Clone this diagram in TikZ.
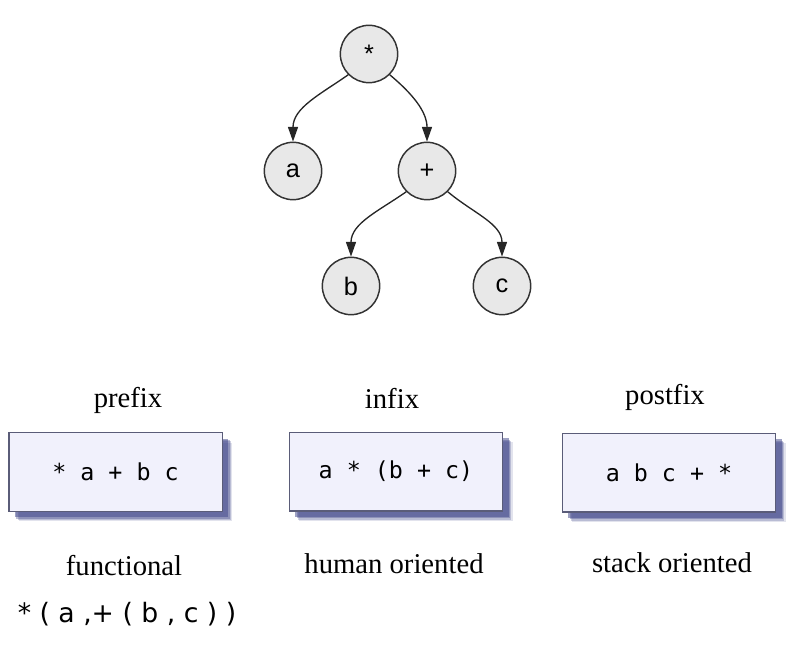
\documentclass[tikz,border=0pt]{standalone}
\usepackage{fontspec}
\setmainfont{Liberation Serif}
\newfontfamily\treefont{Liberation Sans}
\newfontfamily\monofont{DejaVu Sans Mono}
\newfontfamily\sansfont{DejaVu Sans}
\usetikzlibrary{arrows.meta,shadows}
\definecolor{boxfill}{HTML}{F1F1FC}
\definecolor{boxdraw}{HTML}{5A5C78}
\definecolor{shadowc}{HTML}{3E4488}
\definecolor{nodefill}{HTML}{E8E8E8}
\tikzset{
  treenode/.style={circle, draw=black!80, line width=1.1pt, fill=nodefill, minimum size=43pt, inner sep=0pt, font=\treefont\fontsize{19}{19}\selectfont},
  edge/.style={-{Triangle[length=11pt,width=7.5pt]}, line width=1pt, black!85},
  exprbox/.style={rectangle, draw=boxdraw, line width=1pt, fill=boxfill, minimum width=160pt, minimum height=59pt, inner sep=0pt,
    font=\monofont\fontsize{17.5}{17.5}\selectfont,
    drop shadow={shadow xshift=7.5pt, shadow yshift=-7.5pt, fill=shadowc, opacity=0.15},
    drop shadow={shadow xshift=6.5pt, shadow yshift=-6.5pt, fill=shadowc, opacity=0.25},
    drop shadow={shadow xshift=5.5pt, shadow yshift=-5.5pt, fill=shadowc, opacity=0.35},
    drop shadow={shadow xshift=4.5pt, shadow yshift=-4.5pt, fill=shadowc, opacity=0.5}},
  lbl/.style={inner sep=0pt, font=\fontsize{21.5}{21.5}\selectfont}
}
\begin{document}
\begin{tikzpicture}[x=0.75pt,y=-0.75pt]
\useasboundingbox (0,0) rectangle (800,645);
% tree
\node[treenode] (star) at (369,54) {*};
\node[treenode] (a) at (293,171) {a};
\node[treenode] (plus) at (427,171) {+};
\node[treenode] (b) at (351,286) {b};
\node[treenode] (c) at (502,286) {c};
\draw[edge] (star.225) to[out=215,in=90] (a.north);
\draw[edge] (star.-45) to[out=-40,in=90] (plus.north);
\draw[edge] (plus.225) to[out=215,in=90] (b.north);
\draw[edge] (plus.-45) to[out=-40,in=90] (c.north);
% labels
\node[lbl] (lpre) at (128,400) {prefix};
\node[lbl] (lin) at (392,398) {infix};
\node[lbl] (lpost) at (665,397) {postfix};
% boxes
\node[exprbox] (bpre) at (115.5,472) {* a + b c};
\node[exprbox] (bin) at (396,471.5) {a * (b + c)};
\node[exprbox] (bpost) at (669,472.5) {a b c + *};
% bottom labels
\node[lbl] (fun) at (124,566) {functional};
\node[lbl] (hum) at (394,564) {human oriented};
\node[lbl] (stk) at (672,563) {stack oriented};
\node[inner sep=0pt, font=\sansfont\fontsize{20}{20}\selectfont] (fexpr) at (127,614) {* ( a ,+ ( b , c ) )};
\end{tikzpicture}
\end{document}
